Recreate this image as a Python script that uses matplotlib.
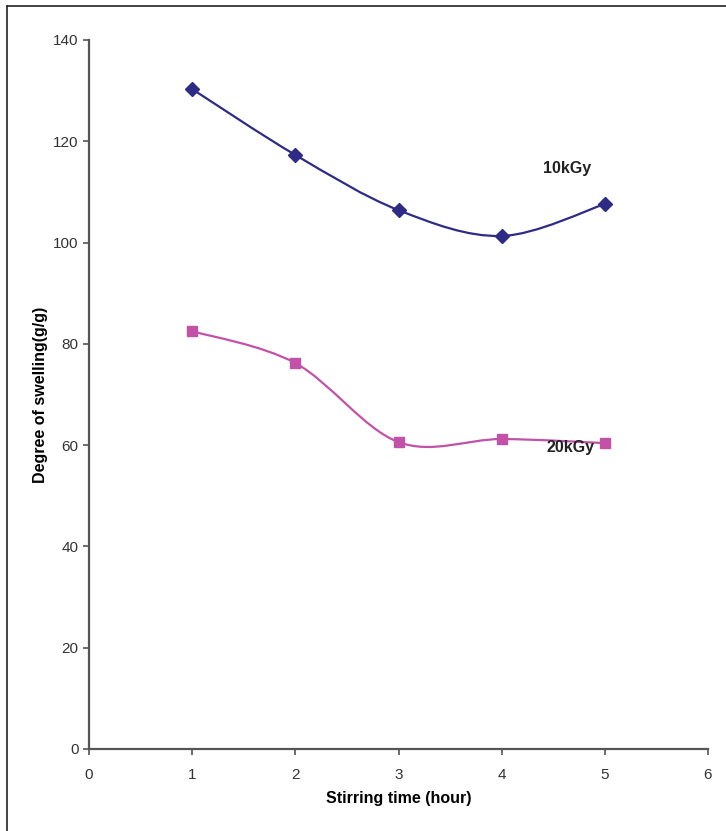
import matplotlib
matplotlib.use("Agg")
import matplotlib.pyplot as plt
from matplotlib.path import Path
from matplotlib.patches import PathPatch
from matplotlib.lines import Line2D
import numpy as np

hours = [1, 2, 3, 4, 5]
swell_10kgy = [130.3, 117.3, 106.4, 101.3, 107.6]
swell_20kgy = [82.5, 76.2, 60.6, 61.2, 60.4]
x_ticks = [0, 1, 2, 3, 4, 5, 6]
y_ticks = [0, 20, 40, 60, 80, 100, 120, 140]

plt.rcParams['font.family'] = ['Liberation Sans', 'DejaVu Sans']


# smooth line like a spreadsheet chart: cubic bezier through the points
def smooth_path(xs, ys):
    pts = np.column_stack([xs, ys]).astype(float)
    n = len(pts)
    verts = [pts[0]]
    codes = [Path.MOVETO]
    for i in range(n - 1):
        p0 = pts[i - 1] if i > 0 else pts[i]
        p1 = pts[i]
        p2 = pts[i + 1]
        p3 = pts[i + 2] if i + 2 < n else pts[i + 1]
        c1 = p1 + (p2 - p0) / 6.0
        c2 = p2 - (p3 - p1) / 6.0
        verts += [c1, c2, p2]
        codes += [Path.CURVE4] * 3
    return Path(verts, codes)


fig = plt.figure(figsize=(7.26, 8.31), dpi=100)
ax = fig.add_axes([0.1226, 0.0987, 0.8526, 0.8532])

blue = '#2D2B85'
pink = '#C152A8'

ax.add_patch(PathPatch(smooth_path(hours, swell_10kgy), fill=False, edgecolor=blue, lw=1.6))
ax.plot(hours, swell_10kgy, 'D', color=blue, ms=7, ls='none')
ax.add_patch(PathPatch(smooth_path(hours, swell_20kgy), fill=False, edgecolor=pink, lw=1.6))
ax.plot(hours, swell_20kgy, 's', color=pink, ms=7.5, ls='none')

ax.text(4.63, 114.7, "10kGy", fontsize=11.5, fontweight='bold', ha='center', va='center', color='#222222')
ax.text(4.67, 59.6, "20kGy", fontsize=11.5, fontweight='bold', ha='center', va='center', color='#222222')

ax.set_xlim(0, 6)
ax.set_ylim(0, 140)
ax.set_xticks(x_ticks)
ax.set_yticks(y_ticks)
ax.spines['top'].set_visible(False)
ax.spines['right'].set_visible(False)
for s in ['left', 'bottom']:
    ax.spines[s].set_color('#555555')
    ax.spines[s].set_linewidth(1.6)
ax.tick_params(direction='out', length=4, width=1.2, color='#555555', labelsize=11, labelcolor='#333333')
ax.tick_params(axis='x', pad=10)
ax.set_xlabel("Stirring time (hour)", fontsize=11.5, fontweight='bold', labelpad=6)
ax.set_ylabel("Degree of swelling(g/g)", fontsize=11.5, fontweight='bold', labelpad=4)

# border lines of the cropped frame
fig.add_artist(Line2D([7 / 726, 7 / 726], [0, 1 - 6 / 831], color='#222222', lw=1.2))
fig.add_artist(Line2D([7 / 726, 1], [1 - 6 / 831, 1 - 6 / 831], color='#222222', lw=1.2))

fig.savefig("out.png", dpi=100)
